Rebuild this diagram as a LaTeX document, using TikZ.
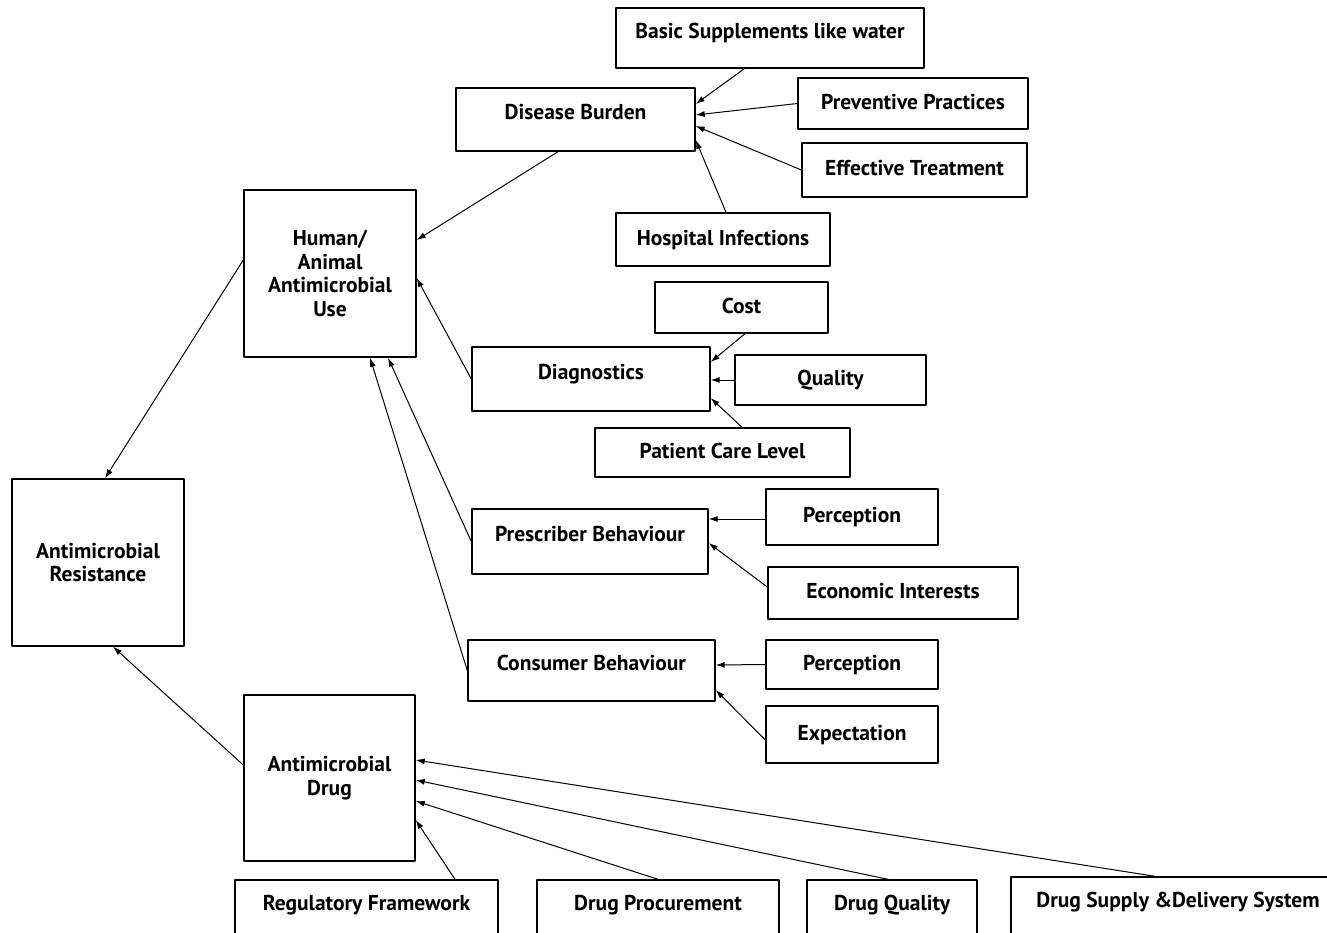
\documentclass[tikz,border=0pt]{standalone}
\usepackage{fontspec}
\setmainfont{PT Sans}
\usetikzlibrary{calc,arrows.meta}
\begin{document}
\begin{tikzpicture}[x=1pt,y=-1pt,>={Latex[length=9pt,width=6pt]},line join=bevel,
  every node/.style={font=\bfseries\fontsize{21.5}{23.5}\selectfont},
  cbox/.style={draw,line width=1.4pt,inner sep=0pt,text height=15pt,text depth=4pt},
  tbox/.style={cbox,text depth=15pt},
  bigbox/.style={draw,line width=1.4pt,inner sep=0pt,align=center},
  link/.style={->,line width=1pt}]
\clip (0,0) rectangle (1327,932);
%%
  % Node: Basic Supplements like water
  \node [tbox,minimum width=308pt,minimum height=60pt] (basic) at (770,38) {Basic Supplements like water};
  % Node: Disease Burden
  \node [tbox,minimum width=239pt,minimum height=63pt] (burden) at (575.5,119.5) {Disease Burden};
  % Node: Preventive Practices
  \node [cbox,minimum width=230pt,minimum height=51pt] (prevent) at (913,103.5) {Preventive Practices};
  % Node: Effective Treatment
  \node [cbox,minimum width=225pt,minimum height=54pt] (effect) at (914.5,170) {Effective Treatment};
  % Node: Hospital Infections
  \node [cbox,minimum width=214pt,minimum height=53pt] (hospital) at (723,239.5) {Hospital Infections};
  % Node: Human/Animal Antimicrobial Use
  \node [bigbox,minimum width=172pt,minimum height=167pt] (use) at (330,273.5) {Human/\\Animal\\Antimicrobial\\Use};
  % Node: Cost
  \node [cbox,minimum width=173pt,minimum height=51pt] (cost) at (741.5,307.5) {Cost};
  % Node: Diagnostics
  \node [tbox,minimum width=238pt,minimum height=64pt] (diag) at (591,379) {Diagnostics};
  % Node: Quality
  \node [cbox,minimum width=191pt,minimum height=50pt] (quality) at (830.5,380) {Quality};
  % Node: Patient Care Level
  \node [cbox,minimum width=255pt,minimum height=49pt] (care) at (722.5,452.5) {Patient Care Level};
  % Node: Antimicrobial Resistance
  \node [bigbox,minimum width=172pt,minimum height=167pt] (resist) at (98,562.5) {Antimicrobial\\Resistance};
  % Node: Prescriber Behaviour
  \node [tbox,minimum width=236pt,minimum height=65pt] (prescr) at (590,541.5) {Prescriber Behaviour};
  % Node: Perception (prescriber)
  \node [cbox,minimum width=172pt,minimum height=56pt] (percA) at (852,517) {Perception};
  % Node: Economic Interests
  \node [cbox,minimum width=250pt,minimum height=52pt] (econ) at (893,593) {Economic Interests};
  % Node: Consumer Behaviour
  \node [tbox,minimum width=247pt,minimum height=61pt] (consum) at (591.5,670.5) {Consumer Behaviour};
  % Node: Perception (consumer)
  \node [cbox,minimum width=172pt,minimum height=49pt] (percB) at (852,664.5) {Perception};
  % Node: Expectation
  \node [cbox,minimum width=172pt,minimum height=57pt] (expect) at (852,734.5) {Expectation};
  % Node: Antimicrobial Drug
  \node [bigbox,minimum width=171pt,minimum height=166pt] (drug) at (329.5,778) {Antimicrobial\\Drug};
  % Node: Regulatory Framework
  \node [tbox,minimum width=263pt,minimum height=60pt] (regul) at (366.5,910) {Regulatory Framework};
  % Node: Drug Procurement
  \node [tbox,minimum width=242pt,minimum height=60pt] (procure) at (658,910) {Drug Procurement};
  % Node: Drug Quality
  \node [tbox,minimum width=170pt,minimum height=60pt] (dquality) at (892,910) {Drug Quality};
  % Node: Drug Supply & Delivery System
  \node [tbox,minimum width=334pt,minimum height=60pt] (supply) at (1178,907) {Drug Supply \&Delivery System};
%%
  % Edge: basic -> burden
  \draw [link] ([xshift=129pt]basic.south west) -- ([yshift=15.5pt]burden.east);
  % Edge: prevent -> burden
  \draw [link] (prevent.west) -- ([yshift=4.5pt]burden.east);
  % Edge: effect -> burden
  \draw [link] (effect.west) -- ([yshift=-6.5pt]burden.east);
  % Edge: hospital -> burden
  \draw [link] ([xshift=3pt]hospital.north) -- ([yshift=-20.5pt]burden.east);
  % Edge: burden -> use
  \draw [link] ([xshift=-17.5pt]burden.south) -- ([yshift=33.5pt]use.east);
  % Edge: use -> resist
  \draw [link] ([yshift=13.5pt]use.west) -- ([xshift=7pt]resist.north);
  % Edge: diag -> use
  \draw [link] (diag.west) -- ([yshift=-4.5pt]use.east);
  % Edge: prescr -> use
  \draw [link] (prescr.west) -- ([xshift=58pt]use.south);
  % Edge: consum -> use
  \draw [link] (consum.west) -- ([xshift=40pt]use.south);
  % Edge: cost -> diag
  \draw [link] ([xshift=3.5pt]cost.south) -- ([yshift=17pt]diag.east);
  % Edge: quality -> diag
  \draw [link] (quality.west) -- ([yshift=-1pt]diag.east);
  % Edge: care -> diag
  \draw [link] ([xshift=19.5pt]care.north) -- ([yshift=-19pt]diag.east);
  % Edge: percA -> prescr
  \draw [link] ([yshift=-2pt]percA.west) -- ([yshift=22.5pt]prescr.east);
  % Edge: econ -> prescr
  \draw [link] ([yshift=6pt]econ.west) -- ([yshift=-1.5pt]prescr.east);
  % Edge: percB -> consum
  \draw [link] (percB.west) -- ([yshift=5.5pt]consum.east);
  % Edge: expect -> consum
  \draw [link] ([yshift=-5.5pt]expect.west) -- ([yshift=-19.5pt]consum.east);
  % Edge: drug -> resist
  \draw [link] ([yshift=13pt]drug.west) -- ([xshift=15pt]resist.south);
  % Edge: regul -> drug
  \draw [link] ([xshift=88.5pt]regul.north) -- ([yshift=-42pt]drug.east);
  % Edge: procure -> drug
  \draw [link] (procure.north) -- ([yshift=-23pt]drug.east);
  % Edge: dquality -> drug
  \draw [link] ([xshift=-4pt]dquality.north) -- ([yshift=-2pt]drug.east);
  % Edge: supply -> drug
  \draw [link] ([xshift=-23pt]supply.north) -- ([yshift=18pt]drug.east);
%
\end{tikzpicture}
\end{document}
